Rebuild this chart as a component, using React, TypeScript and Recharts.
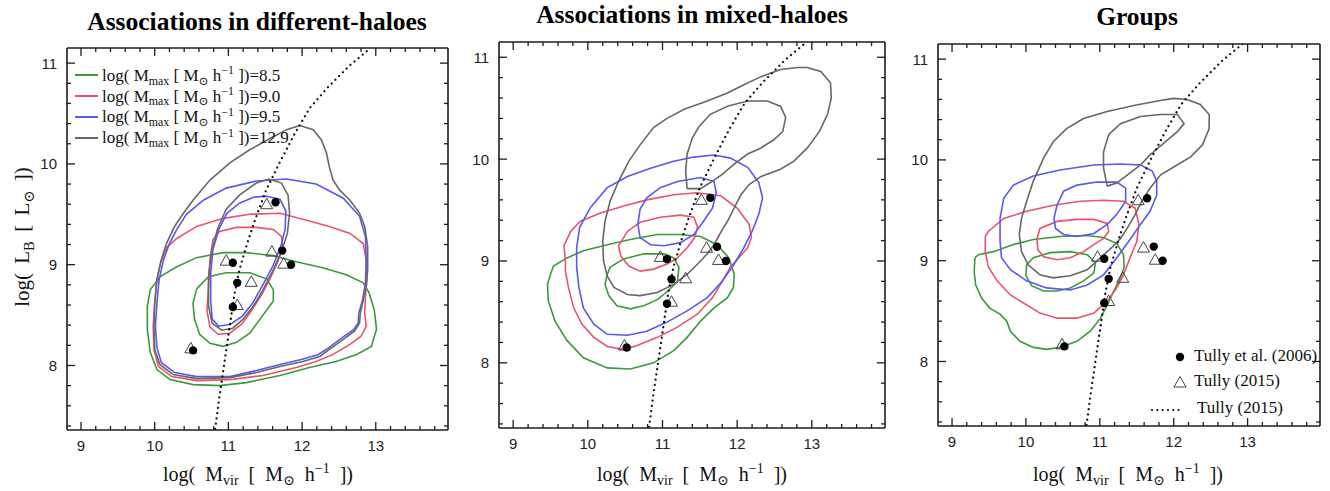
import React from 'react';
import { ScatterChart, Scatter, XAxis, YAxis } from 'recharts';

type P = [number, number];

// axis ticks
const xMajorTicks = [9, 10, 11, 12, 13];
const xMinorTicks = [9.2, 9.4, 9.6, 9.8, 10.2, 10.4, 10.6, 10.8, 11.2, 11.4, 11.6, 11.8, 12.2, 12.4, 12.6, 12.8, 13.2, 13.4, 13.6, 13.8];
const yMajorTicks = [8, 9, 10, 11];
const yMinorTicks = [7.4, 7.6, 7.8, 8.2, 8.4, 8.6, 8.8, 9.2, 9.4, 9.6, 9.8, 10.2, 10.4, 10.6, 10.8];
const X_DOMAIN: P = [8.81, 13.98];
const Y_DOMAIN: P = [7.36, 11.15];

// observations
const tully2006: P[] = [[10.52, 8.15], [11.06, 8.58], [11.12, 8.82], [11.06, 9.02], [11.73, 9.14], [11.85, 9.0], [11.64, 9.62]];
const tully2015: P[] = [[10.49, 8.17], [11.12, 8.6], [11.31, 8.83], [10.97, 9.04], [11.59, 9.13], [11.75, 9.01], [11.52, 9.6]];
const tullyRelation: P[] = [
  [10.82, 7.37], [10.88, 7.7], [10.95, 8.05], [11.02, 8.4], [11.08, 8.7], [11.15, 8.95], [11.25, 9.2], [11.35, 9.42],
  [11.5, 9.72], [11.7, 10.02], [11.9, 10.3], [12.1, 10.55], [12.35, 10.76], [12.65, 10.98], [12.93, 11.15],
];

const levels = ['8.5', '9.0', '9.5', '12.9'];
const levelColors = ['#3b9a3b', '#e8546e', '#5858f2', '#676767'];

// Associations in different-haloes
const diffGreenOuter: P[] = [[10.93, 9.12], [11.24, 9.12], [11.61, 9.09], [11.92, 9.03], [12.28, 8.97], [12.6, 8.9], [12.83, 8.82], [12.91, 8.72], [12.98, 8.55], [13.01, 8.36], [12.94, 8.19], [12.74, 8.11], [12.46, 8.04], [12.1, 7.98], [11.7, 7.9], [11.24, 7.83], [10.88, 7.8], [10.52, 7.81], [10.21, 7.86], [10.03, 7.96], [9.94, 8.13], [9.9, 8.36], [9.9, 8.59], [9.94, 8.75], [10.07, 8.88], [10.3, 8.98], [10.57, 9.07]];
const diffGreenInner: P[] = [[10.57, 8.76], [10.73, 8.88], [10.97, 8.92], [11.29, 8.92], [11.52, 8.86], [11.61, 8.75], [11.61, 8.64], [11.52, 8.55], [11.43, 8.46], [11.29, 8.32], [11.11, 8.23], [10.93, 8.19], [10.75, 8.22], [10.61, 8.31], [10.54, 8.46], [10.52, 8.62]];
const diffRedOuter: P[] = [[11.7, 9.51], [12.01, 9.45], [12.37, 9.38], [12.65, 9.31], [12.83, 9.21], [12.87, 9.05], [12.88, 8.85], [12.86, 8.69], [12.85, 8.52], [12.87, 8.39], [12.8, 8.29], [12.65, 8.21], [12.42, 8.11], [12.19, 8.04], [11.92, 7.98], [11.47, 7.9], [11.02, 7.86], [10.57, 7.85], [10.23, 7.89], [10.05, 7.99], [9.99, 8.16], [9.98, 8.39], [10.0, 8.62], [10.03, 8.85], [10.08, 9.02], [10.16, 9.17], [10.3, 9.26], [10.57, 9.38], [10.93, 9.46], [11.29, 9.5]];
const diffRedInner: P[] = [[11.38, 9.37], [11.61, 9.35], [11.72, 9.28], [11.74, 9.17], [11.67, 9.03], [11.57, 8.87], [11.45, 8.7], [11.31, 8.54], [11.18, 8.41], [11.02, 8.32], [10.86, 8.31], [10.75, 8.38], [10.71, 8.54], [10.73, 8.79], [10.75, 9.05], [10.79, 9.25], [10.88, 9.33], [11.11, 9.37]];
const diffBlueOuter: P[] = [[11.79, 9.85], [12.19, 9.8], [12.56, 9.66], [12.78, 9.48], [12.86, 9.28], [12.87, 9.05], [12.86, 8.82], [12.82, 8.65], [12.77, 8.52], [12.76, 8.42], [12.69, 8.35], [12.53, 8.27], [12.35, 8.17], [12.22, 8.11], [11.99, 8.06], [11.7, 8.01], [11.38, 7.95], [11.02, 7.89], [10.57, 7.89], [10.27, 7.93], [10.09, 8.03], [10.03, 8.18], [10.01, 8.39], [10.03, 8.62], [10.06, 8.85], [10.12, 9.05], [10.2, 9.21], [10.3, 9.35], [10.43, 9.5], [10.66, 9.64], [10.97, 9.76], [11.38, 9.83]];
const diffBlueInner: P[] = [[11.52, 9.68], [11.7, 9.65], [11.78, 9.53], [11.77, 9.35], [11.71, 9.18], [11.6, 8.98], [11.46, 8.79], [11.33, 8.62], [11.19, 8.49], [11.03, 8.41], [10.87, 8.39], [10.78, 8.46], [10.76, 8.64], [10.76, 8.92], [10.79, 9.15], [10.87, 9.35], [10.98, 9.51], [11.15, 9.61], [11.34, 9.67]];
const diffGrayOuter: P[] = [[11.97, 10.38], [12.15, 10.34], [12.26, 10.24], [12.33, 10.11], [12.37, 9.97], [12.42, 9.84], [12.51, 9.74], [12.65, 9.64], [12.78, 9.51], [12.85, 9.38], [12.89, 9.18], [12.89, 8.95], [12.87, 8.79], [12.83, 8.65], [12.79, 8.52], [12.78, 8.42], [12.71, 8.34], [12.56, 8.26], [12.37, 8.16], [12.24, 8.09], [12.01, 8.04], [11.7, 7.99], [11.38, 7.93], [11.02, 7.88], [10.57, 7.87], [10.25, 7.91], [10.07, 8.01], [10.0, 8.16], [9.99, 8.39], [10.0, 8.62], [10.03, 8.85], [10.09, 9.05], [10.16, 9.21], [10.27, 9.38], [10.39, 9.51], [10.52, 9.64], [10.75, 9.84], [11.02, 10.01], [11.29, 10.14], [11.56, 10.25], [11.79, 10.34]];
const diffGrayInner: P[] = [[11.55, 9.85], [11.72, 9.81], [11.81, 9.69], [11.83, 9.51], [11.8, 9.31], [11.72, 9.13], [11.61, 8.95], [11.47, 8.75], [11.34, 8.59], [11.2, 8.46], [11.06, 8.37], [10.91, 8.35], [10.78, 8.42], [10.73, 8.59], [10.73, 8.88], [10.77, 9.12], [10.85, 9.35], [10.97, 9.55], [11.15, 9.69], [11.38, 9.81]];

// Associations in mixed-haloes
const mixGreenOuter: P[] = [[9.5, 8.87], [9.54, 8.95], [9.72, 9.03], [9.94, 9.1], [10.26, 9.16], [10.57, 9.21], [10.93, 9.26], [11.24, 9.26], [11.51, 9.24], [11.73, 9.16], [11.89, 9.03], [11.96, 8.87], [11.95, 8.74], [11.87, 8.64], [11.69, 8.54], [11.51, 8.41], [11.33, 8.25], [11.15, 8.12], [10.88, 8.0], [10.57, 7.94], [10.26, 7.95], [9.94, 8.05], [9.72, 8.22], [9.56, 8.41], [9.47, 8.61], [9.46, 8.77]];
const mixGreenInner: P[] = [[10.26, 8.87], [10.3, 8.94], [10.48, 9.02], [10.75, 9.07], [11.02, 9.07], [11.15, 9.03], [11.22, 8.94], [11.2, 8.8], [11.08, 8.71], [10.93, 8.62], [10.75, 8.56], [10.57, 8.53], [10.39, 8.56], [10.28, 8.66], [10.23, 8.77]];
const mixRedOuter: P[] = [[9.7, 9.0], [9.68, 9.15], [9.77, 9.29], [9.9, 9.39], [10.17, 9.47], [10.48, 9.54], [10.79, 9.6], [11.15, 9.65], [11.46, 9.67], [11.78, 9.64], [12.0, 9.52], [12.16, 9.36], [12.19, 9.23], [12.14, 9.13], [12.02, 9.03], [11.91, 8.94], [11.8, 8.8], [11.67, 8.64], [11.47, 8.48], [11.2, 8.35], [10.93, 8.25], [10.66, 8.17], [10.48, 8.13], [10.26, 8.16], [10.08, 8.25], [9.92, 8.38], [9.81, 8.54], [9.74, 8.74], [9.7, 8.9]];
const mixRedInner: P[] = [[10.44, 9.18], [10.53, 9.29], [10.7, 9.38], [10.97, 9.43], [11.24, 9.45], [11.42, 9.43], [11.47, 9.33], [11.43, 9.23], [11.33, 9.13], [11.2, 9.03], [11.06, 8.97], [10.88, 8.92], [10.7, 8.9], [10.55, 8.95], [10.44, 9.05], [10.41, 9.15]];
const mixBlueOuter: P[] = [[10.03, 9.52], [10.26, 9.72], [10.53, 9.83], [10.84, 9.91], [11.15, 9.98], [11.42, 10.02], [11.69, 10.04], [11.91, 10.01], [12.14, 9.92], [12.29, 9.77], [12.34, 9.62], [12.29, 9.46], [12.2, 9.29], [12.09, 9.13], [11.96, 8.97], [11.8, 8.8], [11.6, 8.64], [11.33, 8.51], [11.06, 8.4], [10.79, 8.31], [10.53, 8.27], [10.26, 8.28], [10.08, 8.38], [9.94, 8.54], [9.88, 8.74], [9.85, 8.94], [9.85, 9.13], [9.89, 9.33]];
const mixBlueInner: P[] = [[11.51, 9.82], [11.69, 9.78], [11.72, 9.67], [11.67, 9.52], [11.55, 9.39], [11.42, 9.26], [11.24, 9.18], [11.02, 9.15], [10.84, 9.16], [10.7, 9.23], [10.67, 9.36], [10.7, 9.51], [10.79, 9.62], [10.97, 9.72], [11.2, 9.78]];
const mixGrayOuter: P[] = [[12.94, 10.9], [13.12, 10.86], [13.25, 10.75], [13.26, 10.6], [13.21, 10.44], [13.1, 10.27], [12.94, 10.11], [12.76, 9.98], [12.58, 9.9], [12.32, 9.83], [12.16, 9.75], [12.05, 9.65], [11.96, 9.52], [11.87, 9.39], [11.78, 9.28], [11.69, 9.16], [11.6, 9.07], [11.47, 8.97], [11.33, 8.87], [11.15, 8.77], [10.93, 8.69], [10.7, 8.66], [10.53, 8.67], [10.35, 8.74], [10.26, 8.85], [10.21, 9.0], [10.2, 9.2], [10.23, 9.39], [10.3, 9.59], [10.41, 9.78], [10.55, 9.98], [10.7, 10.14], [10.88, 10.31], [11.06, 10.4], [11.29, 10.49], [11.6, 10.57], [11.87, 10.65], [12.09, 10.73], [12.32, 10.81], [12.58, 10.88], [12.81, 10.9]];
const mixGrayInner: P[] = [[11.33, 9.71], [11.31, 9.88], [11.33, 10.05], [11.4, 10.21], [11.49, 10.32], [11.64, 10.44], [11.87, 10.52], [12.14, 10.57], [12.4, 10.57], [12.58, 10.52], [12.65, 10.41], [12.61, 10.27], [12.49, 10.19], [12.32, 10.11], [12.14, 10.05], [11.96, 9.95], [11.8, 9.85], [11.64, 9.77], [11.51, 9.71]];

// Groups
const grpGreenOuter: P[] = [[9.31, 9.03], [9.36, 9.06], [9.56, 9.09], [9.83, 9.16], [10.1, 9.21], [10.46, 9.24], [10.83, 9.25], [11.05, 9.23], [11.23, 9.17], [11.32, 9.06], [11.33, 8.94], [11.28, 8.83], [11.19, 8.7], [11.1, 8.56], [11.01, 8.43], [10.87, 8.3], [10.69, 8.2], [10.46, 8.14], [10.28, 8.12], [10.1, 8.14], [9.92, 8.2], [9.79, 8.3], [9.74, 8.4], [9.65, 8.47], [9.51, 8.53], [9.4, 8.63], [9.32, 8.76], [9.3, 8.89]];
const grpGreenInner: P[] = [[10.01, 8.96], [10.1, 9.03], [10.33, 9.08], [10.6, 9.09], [10.83, 9.06], [10.94, 8.98], [10.92, 8.88], [10.78, 8.8], [10.6, 8.73], [10.42, 8.7], [10.24, 8.7], [10.08, 8.75], [10.0, 8.85]];
const grpRedOuter: P[] = [[9.45, 9.24], [9.49, 9.29], [9.7, 9.42], [10.01, 9.49], [10.37, 9.55], [10.74, 9.59], [11.05, 9.6], [11.32, 9.59], [11.48, 9.52], [11.53, 9.36], [11.5, 9.19], [11.41, 9.03], [11.32, 8.86], [11.23, 8.73], [11.1, 8.6], [10.92, 8.48], [10.69, 8.43], [10.42, 8.43], [10.19, 8.48], [9.99, 8.57], [9.79, 8.66], [9.61, 8.8], [9.49, 8.94], [9.45, 9.09]];
const grpRedInner: P[] = [[10.15, 9.22], [10.19, 9.32], [10.42, 9.39], [10.69, 9.41], [10.92, 9.41], [11.1, 9.37], [11.12, 9.29], [11.05, 9.22], [10.92, 9.16], [10.78, 9.09], [10.6, 9.03], [10.42, 9.01], [10.24, 9.04], [10.16, 9.11]];
const grpBlueOuter: P[] = [[11.28, 9.96], [10.92, 9.95], [10.46, 9.9], [10.1, 9.84], [9.83, 9.75], [9.7, 9.62], [9.65, 9.42], [9.65, 9.19], [9.67, 9.03], [9.79, 8.91], [10.01, 8.8], [10.28, 8.73], [10.6, 8.71], [10.83, 8.76], [11.05, 8.86], [11.23, 9.03], [11.39, 9.19], [11.55, 9.36], [11.68, 9.49], [11.77, 9.65], [11.77, 9.79], [11.71, 9.89], [11.55, 9.95]];
const grpBlueInner: P[] = [[11.23, 9.78], [11.35, 9.72], [11.35, 9.59], [11.23, 9.46], [11.1, 9.36], [10.92, 9.27], [10.69, 9.24], [10.51, 9.26], [10.4, 9.32], [10.38, 9.42], [10.42, 9.55], [10.51, 9.69], [10.69, 9.75], [10.96, 9.78]];
const grpGrayOuter: P[] = [[12.18, 10.6], [12.36, 10.55], [12.48, 10.45], [12.48, 10.31], [12.39, 10.15], [12.23, 10.03], [12.0, 9.93], [11.82, 9.85], [11.68, 9.72], [11.57, 9.59], [11.48, 9.46], [11.37, 9.32], [11.28, 9.22], [11.16, 9.13], [11.01, 9.03], [10.83, 8.91], [10.6, 8.85], [10.37, 8.83], [10.19, 8.86], [10.03, 8.96], [9.94, 9.09], [9.91, 9.26], [9.94, 9.42], [10.01, 9.59], [10.1, 9.79], [10.24, 10.02], [10.37, 10.18], [10.55, 10.31], [10.78, 10.41], [11.1, 10.48], [11.46, 10.54], [11.82, 10.59], [12.0, 10.61]];
const grpGrayInner: P[] = [[11.1, 9.74], [11.05, 9.92], [11.05, 10.08], [11.12, 10.25], [11.28, 10.36], [11.55, 10.43], [11.82, 10.45], [12.05, 10.45], [12.14, 10.36], [12.05, 10.28], [11.87, 10.17], [11.68, 10.05], [11.55, 9.95], [11.37, 9.85], [11.23, 9.77]];

const diffContours = [
  [diffGreenOuter, diffGreenInner], [diffRedOuter, diffRedInner], [diffBlueOuter, diffBlueInner], [diffGrayOuter, diffGrayInner],
];
const mixContours = [
  [mixGreenOuter, mixGreenInner], [mixRedOuter, mixRedInner], [mixBlueOuter, mixBlueInner], [mixGrayOuter, mixGrayInner],
];
const grpContours = [
  [grpGreenOuter, grpGreenInner], [grpRedOuter, grpRedInner], [grpBlueOuter, grpBlueInner], [grpGrayOuter, grpGrayInner],
];

const xTicks = [...xMajorTicks, ...xMinorTicks].sort((a, b) => a - b);
const yTicks = [...yMajorTicks, ...yMinorTicks].sort((a, b) => a - b);

const toPts = (a: P[]) => a.map(([x, y]) => ({ x, y }));
const closeLoop = (a: P[]) => toPts([...a, a[0]]);

const serif = '"Liberation Serif", "DejaVu Serif", serif';
const sans = '"Liberation Sans", Arial, sans-serif';
const INK = '#1c1c1c';
const frame = { stroke: INK, strokeWidth: 1.6 };

const noDot = () => <g />;
const dot = (p: any) => <circle cx={p.cx} cy={p.cy} r={4.2} fill="#000" />;
const triangle = (p: any) => (
  <polygon
    points={`${p.cx},${p.cy - 6} ${p.cx - 6},${p.cy + 4.5} ${p.cx + 6},${p.cy + 4.5}`}
    fill="none"
    stroke="#444"
    strokeWidth={1}
  />
);

// inward tick marks, major ones longer; labels only on bottom / left
const tickLen = (v: number) => (Number.isInteger(v) ? 8 : 4);
const BottomTick = (p: any) => {
  const v = p.payload.value;
  return (
    <g>
      <line x1={p.x} x2={p.x} y1={p.y} y2={p.y - tickLen(v)} stroke={INK} strokeWidth={1.3} />
      {Number.isInteger(v) && (
        <text x={p.x} y={p.y + 21} textAnchor="middle" fontFamily={sans} fontSize={15} fill="#222">{v}</text>
      )}
    </g>
  );
};
const TopTick = (p: any) => (
  <line x1={p.x} x2={p.x} y1={p.y} y2={p.y + tickLen(p.payload.value)} stroke={INK} strokeWidth={1.3} />
);
const LeftTick = (p: any) => {
  const v = p.payload.value;
  return (
    <g>
      <line x1={p.x} x2={p.x + tickLen(v)} y1={p.y} y2={p.y} stroke={INK} strokeWidth={1.3} />
      {Number.isInteger(v) && (
        <text x={p.x - 10} y={p.y + 5.5} textAnchor="end" fontFamily={sans} fontSize={15} fill="#222">{v}</text>
      )}
    </g>
  );
};
const RightTick = (p: any) => (
  <line x1={p.x} x2={p.x - tickLen(p.payload.value)} y1={p.y} y2={p.y} stroke={INK} strokeWidth={1.3} />
);

const Sub = ({ children }: { children: React.ReactNode }) => (
  <span style={{ fontSize: '0.7em', position: 'relative', top: '0.32em' }}>{children}</span>
);
const Sup = ({ children }: { children: React.ReactNode }) => (
  <span style={{ fontSize: '0.7em', position: 'relative', top: '-0.55em' }}>{children}</span>
);

type PanelProps = {
  left: number;
  width: number;
  margin: { top: number; right: number; bottom: number; left: number };
  contours: P[][][];
};

const Panel: React.FC<PanelProps> = ({ left, width, margin, contours }) => (
  <div style={{ position: 'absolute', left, top: 0 }}>
    <ScatterChart width={width} height={491} margin={margin}>
      <XAxis xAxisId="b" type="number" dataKey="x" domain={X_DOMAIN} allowDataOverflow ticks={xTicks} interval={0}
        height={1} tickSize={0} tickMargin={0} axisLine={frame} tickLine={false} tick={BottomTick} />
      <XAxis xAxisId="t" orientation="top" type="number" dataKey="x" domain={X_DOMAIN} allowDataOverflow ticks={xTicks}
        interval={0} height={1} tickSize={0} tickMargin={0} axisLine={frame} tickLine={false} tick={TopTick} />
      <YAxis yAxisId="l" type="number" dataKey="y" domain={Y_DOMAIN} allowDataOverflow ticks={yTicks} interval={0}
        width={1} tickSize={0} tickMargin={0} axisLine={frame} tickLine={false} tick={LeftTick} />
      <YAxis yAxisId="r" orientation="right" type="number" dataKey="y" domain={Y_DOMAIN} allowDataOverflow ticks={yTicks}
        interval={0} width={1} tickSize={0} tickMargin={0} axisLine={frame} tickLine={false} tick={RightTick} />

      {contours.map((pair, i) =>
        pair.map((c, j) => (
          <Scatter
            key={`${i}-${j}`}
            xAxisId="b"
            yAxisId="l"
            data={closeLoop(c)}
            shape={noDot}
            line={{ stroke: levelColors[i], strokeWidth: 1.6 }}
            isAnimationActive={false}
          />
        ))
      )}
      <Scatter xAxisId="b" yAxisId="l" data={toPts(tullyRelation)} shape={noDot}
        line={{ stroke: '#111', strokeWidth: 2.2, strokeDasharray: '0.1 5.2', strokeLinecap: 'round' }}
        isAnimationActive={false} />
      <Scatter xAxisId="b" yAxisId="l" data={toPts(tully2015)} shape={triangle} isAnimationActive={false} />
      <Scatter xAxisId="b" yAxisId="l" data={toPts(tully2006)} shape={dot} isAnimationActive={false} />
    </ScatterChart>
  </div>
);

const Title = ({ text, cx, cy }: { text: string; cx: number; cy: number }) => (
  <div style={{ position: 'absolute', left: cx - 250, width: 500, top: cy - 15, lineHeight: '30px', textAlign: 'center',
    fontFamily: serif, fontWeight: 'bold', fontSize: 25.5, color: '#000' }}>
    {text}
  </div>
);

const XLabel = ({ cx }: { cx: number }) => (
  <div style={{ position: 'absolute', left: cx - 150, width: 300, top: 463, lineHeight: '22px', textAlign: 'center',
    fontFamily: serif, fontSize: 20, wordSpacing: 5, color: '#111', whiteSpace: 'nowrap' }}>
    log( M<Sub>vir</Sub> [ M<Sub>⊙</Sub> h<Sup>−1</Sup> ])
  </div>
);

const App: React.FC = () => (
  <div style={{ position: 'absolute', left: 0, top: 0, width: 1330, height: 491, background: '#fff', overflow: 'hidden' }}>
    <Panel left={0} width={460} margin={{ top: 47, right: 11, bottom: 60, left: 66 }} contours={diffContours} />
    <Panel left={460} width={440} margin={{ top: 41, right: 14, bottom: 62, left: 38 }} contours={mixContours} />
    <Panel left={900} width={430} margin={{ top: 43, right: 9, bottom: 64, left: 37 }} contours={grpContours} />

    <Title text="Associations in different-haloes" cx={257} cy={22} />
    <Title text="Associations in mixed-haloes" cx={692} cy={15} />
    <Title text="Groups" cx={1137} cy={17} />

    <XLabel cx={258} />
    <XLabel cx={692} />
    <XLabel cx={1128} />

    <div style={{ position: 'absolute', left: 23 - 100, top: 236 - 11, width: 200, lineHeight: '22px', textAlign: 'center',
      transform: 'rotate(-90deg)', fontFamily: serif, fontSize: 21, wordSpacing: 4, color: '#111', whiteSpace: 'nowrap' }}>
      log( L<Sub>B</Sub> [ L<Sub>⊙</Sub> ])
    </div>

    {/* M_max legend, first panel */}
    <div style={{ position: 'absolute', left: 75, top: 65, fontFamily: serif, fontSize: 17, color: '#111' }}>
      {levels.map((lv, i) => (
        <div key={lv} style={{ display: 'flex', alignItems: 'center', height: 20.8, whiteSpace: 'nowrap' }}>
          <span style={{ display: 'inline-block', width: 23, height: 2, background: levelColors[i], marginRight: 4 }} />
          <span style={{ lineHeight: 1 }}>
            log( M<Sub>max</Sub> [ M<Sub>⊙</Sub> h<Sup>−1</Sup> ])={lv}
          </span>
        </div>
      ))}
    </div>

    {/* observations legend, last panel */}
    <div style={{ position: 'absolute', left: 1150, top: 345, fontFamily: serif, fontSize: 17, color: '#111' }}>
      <svg width={40} height={75} style={{ position: 'absolute', left: 0, top: 0 }}>
        <circle cx={30} cy={12} r={4.2} fill="#000" />
        <polygon points="30,31.5 24,42 36,42" fill="none" stroke="#444" strokeWidth={1} />
        <line x1={2} x2={30} y1={65} y2={65} stroke="#111" strokeWidth={2.2} strokeDasharray="0.1 5.2" strokeLinecap="round" />
      </svg>
      <div style={{ position: 'absolute', left: 44, top: 1, whiteSpace: 'nowrap', lineHeight: '20px' }}>Tully et al. (2006)</div>
      <div style={{ position: 'absolute', left: 44, top: 26, whiteSpace: 'nowrap', lineHeight: '20px' }}>Tully (2015)</div>
      <div style={{ position: 'absolute', left: 47, top: 53, whiteSpace: 'nowrap', lineHeight: '20px' }}>Tully (2015)</div>
    </div>
  </div>
);

export default App;
